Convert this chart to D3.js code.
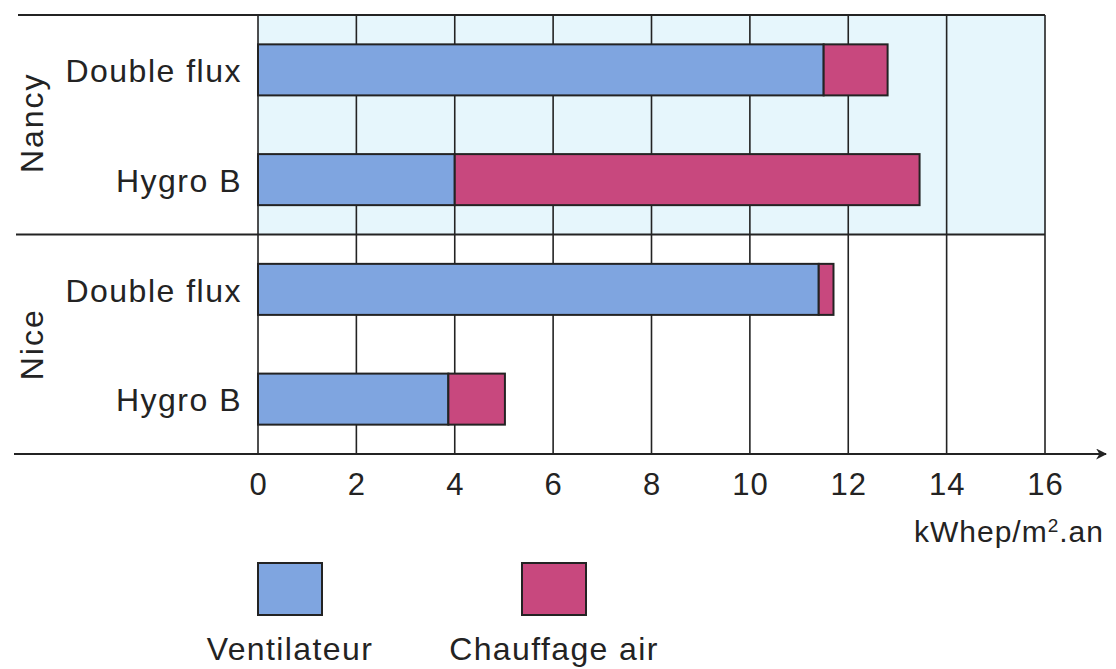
<!DOCTYPE html>
<html>
<head>
<meta charset="utf-8">
<script src="https://cdn.jsdelivr.net/npm/d3@7"></script>
<style>
  body { margin: 0; background: #fff; }
  svg { display: block; font-family: "Liberation Sans", Arial, sans-serif; }
</style>
</head>
<body>
<div id="chart"></div>
<script>
// data (kWhep/m².an)
const cities = ["Nancy", "Nice"];
const systems = ["Double flux", "Hygro B"];
const ventilateur = [11.5, 4.0, 11.4, 3.87];
const chauffage = [1.3, 9.45, 0.3, 1.15];
const ticks = [0, 2, 4, 6, 8, 10, 12, 14, 16];
const seriesNames = ["Ventilateur", "Chauffage air"];
const seriesColors = ["#7fa5e0", "#c8487e"];

let dim = { width: 1116, height: 669 };

let rows = [];
cities.forEach((c, ci) => systems.forEach((s, si) => {
  let i = ci * systems.length + si;
  rows.push({ key: c + "|" + s, city: c, system: s, v: ventilateur[i], h: chauffage[i] });
}));

let svg = d3.select('#chart').append('svg')
  .attr('width', dim.width)
  .attr('height', dim.height);

let x = d3.scaleLinear().domain([0, 16]).range([258, 1045]);
let y = d3.scaleBand()
  .domain(rows.map(d => d.key))
  .range([15, 454])
  .paddingInner(0.535)
  .paddingOuter(0.2675);

let yTop = 15, yBottom = 454;
let yMid = y.range()[0] + y.step() * systems.length;
let ink = "#232323";

// light blue band behind the Nancy block
svg.append('rect')
  .attr('x', x(0)).attr('y', yTop)
  .attr('width', x(16) - x(0)).attr('height', yMid - yTop)
  .attr('fill', '#e6f6fc');

// vertical grid
svg.append('g').selectAll('line')
  .data(ticks)
  .join('line')
  .attr('x1', d => x(d)).attr('x2', d => x(d))
  .attr('y1', yTop)
  .attr('y2', yBottom)
  .attr('stroke', ink)
  .attr('stroke-width', 1.6);

// horizontal rules
svg.append('line').attr('x1', 18).attr('x2', x(16)).attr('y1', yTop).attr('y2', yTop)
  .attr('stroke', ink).attr('stroke-width', 2);
svg.append('line').attr('x1', 16).attr('x2', x(16)).attr('y1', yMid).attr('y2', yMid)
  .attr('stroke', ink).attr('stroke-width', 2);

// bars
let bars = svg.append('g');
bars.selectAll('rect.vent')
  .data(rows)
  .join('rect')
  .attr('class', 'vent')
  .attr('x', x(0))
  .attr('y', d => y(d.key))
  .attr('width', d => x(d.v) - x(0))
  .attr('height', y.bandwidth())
  .attr('fill', seriesColors[0])
  .attr('stroke', ink).attr('stroke-width', 2);
bars.selectAll('rect.chauf')
  .data(rows)
  .join('rect')
  .attr('class', 'chauf')
  .attr('x', d => x(d.v))
  .attr('y', d => y(d.key))
  .attr('width', d => x(d.v + d.h) - x(d.v))
  .attr('height', y.bandwidth())
  .attr('fill', seriesColors[1])
  .attr('stroke', ink).attr('stroke-width', 2);

// category labels
svg.append('g').selectAll('text')
  .data(rows)
  .join('text')
  .attr('x', 242)
  .attr('y', d => y(d.key) + y.bandwidth() / 2)
  .attr('dy', '0.38em')
  .attr('text-anchor', 'end')
  .attr('font-size', 32)
  .attr('letter-spacing', 1.5)
  .attr('fill', ink)
  .text(d => d.system);

// city labels (rotated)
svg.append('g').selectAll('text')
  .data(cities)
  .join('text')
  .attr('transform', (d, i) => {
    let cy = i === 0 ? (yTop + yMid) / 2 - 2 : (yMid + yBottom) / 2;
    return 'translate(31,' + cy + ') rotate(-90)';
  })
  .attr('dy', '0.36em')
  .attr('text-anchor', 'middle')
  .attr('font-size', 32)
  .attr('letter-spacing', 2)
  .attr('fill', ink)
  .text(d => d);

// x axis with arrow
svg.append('defs').append('marker')
  .attr('id', 'arrow')
  .attr('viewBox', '0 0 10 10')
  .attr('refX', 9).attr('refY', 5)
  .attr('markerWidth', 11).attr('markerHeight', 11)
  .attr('markerUnits', 'userSpaceOnUse')
  .attr('orient', 'auto')
  .append('path').attr('d', 'M0,0 L10,5 L0,10 L3,5 Z').attr('fill', ink);

svg.append('line')
  .attr('x1', 14).attr('x2', 1106)
  .attr('y1', yBottom).attr('y2', yBottom)
  .attr('stroke', ink).attr('stroke-width', 2)
  .attr('marker-end', 'url(#arrow)');

let axis = d3.axisBottom(x).tickValues(ticks).tickSize(0).tickPadding(19);
let ag = svg.append('g').attr('transform', 'translate(0,' + yBottom + ')').call(axis);
ag.select('.domain').remove();
ag.selectAll('text')
  .attr('font-size', 31)
  .attr('font-family', '"Liberation Sans", Arial, sans-serif')
  .attr('letter-spacing', 1)
  .attr('fill', ink);

// unit
let unit = svg.append('text')
  .attr('x', 1104).attr('y', 542)
  .attr('text-anchor', 'end')
  .attr('font-size', 30)
  .attr('letter-spacing', 1)
  .attr('fill', ink);
unit.append('tspan').text('kWhep/m');
unit.append('tspan').attr('font-size', 19).attr('dy', -10).text('2');
unit.append('tspan').attr('dy', 10).text('.an');

// legend
let lg = svg.append('g').selectAll('g')
  .data(seriesNames)
  .join('g')
  .attr('transform', (d, i) => 'translate(' + (i === 0 ? 290 : 554) + ',0)');
lg.append('rect')
  .attr('x', -32).attr('y', 563)
  .attr('width', 64).attr('height', 52)
  .attr('fill', (d, i) => seriesColors[i])
  .attr('stroke', ink).attr('stroke-width', 2);
lg.append('text')
  .attr('x', 0).attr('y', 660)
  .attr('text-anchor', 'middle')
  .attr('font-size', 32)
  .attr('letter-spacing', 1.4)
  .attr('fill', ink)
  .text(d => d);
</script>
</body>
</html>
